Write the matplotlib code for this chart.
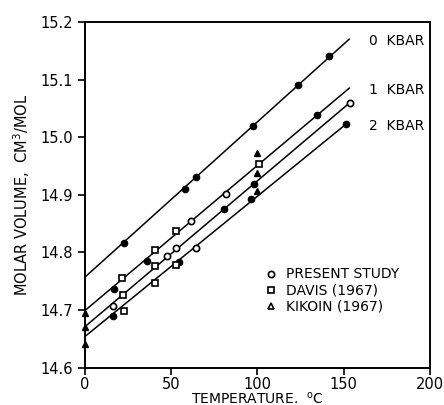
import numpy as np
import matplotlib
matplotlib.use("Agg")
import matplotlib.pyplot as plt
from matplotlib.lines import Line2D

# fitted lines: (T_start, T_end), (V_start, V_end)
line_labels = ["0  KBAR", "1  KBAR", "", "2  KBAR"]
line_T = [[0, 153.3], [0, 153.3], [0, 153.7], [0, 151.2]]
line_V = [[14.757, 15.170], [14.699, 15.085], [14.671, 15.060], [14.654, 15.022]]

# present study (filled circles)
ps_T = [22.6, 57.9, 64.7, 97.7, 123.8, 141.5,
        16.9, 36.1, 134.5,
        80.7, 97.9,
        16.4, 54.4, 96.5, 151.2]
ps_V = [14.817, 14.910, 14.931, 15.019, 15.090, 15.140,
        14.736, 14.786, 15.038,
        14.875, 14.918,
        14.689, 14.784, 14.892, 15.022]

# present study (open circles)
pso_T = [61.8, 82.1, 16.4, 47.9, 52.8, 64.3, 153.8]
pso_V = [14.854, 14.902, 14.707, 14.794, 14.808, 14.808, 15.060]

# Davis (1967)
davis_T = [21.8, 40.5, 53.1, 22.2, 40.5, 22.6, 40.5, 53.1, 101.0]
davis_V = [14.755, 14.805, 14.837, 14.726, 14.776, 14.699, 14.747, 14.779, 14.954]

# Kikoin (1967)
kik_T = [0, 0, 0, 99.8, 100.0, 99.8]
kik_V = [14.695, 14.671, 14.641, 14.973, 14.937, 14.906]

fig = plt.figure(figsize=(4.44, 4.05), dpi=100)
ax = fig.add_axes([0.191, 0.092, 0.777, 0.854])

for t, v, lab in zip(line_T, line_V, line_labels):
    ax.plot(t, v, color="black", lw=1.1)
    if lab:
        ax.text(165, v[1] - 0.003, lab, fontsize=10, va="center", ha="left")

ax.plot(ps_T, ps_V, "o", ms=4.5, mfc="black", mec="black", clip_on=False)
ax.plot(pso_T, pso_V, "o", ms=4.5, mfc="white", mec="black", mew=1.2, clip_on=False)
ax.plot(davis_T, davis_V, "s", ms=4.5, mfc="white", mec="black", mew=1.2, clip_on=False)
ax.plot(kik_T, kik_V, "^", ms=5, mfc="black", mec="black", clip_on=False)

handles = [
    Line2D([], [], marker="o", ls="", ms=4.5, mfc="white", mec="black", mew=1.2),
    Line2D([], [], marker="s", ls="", ms=4, mfc="white", mec="black", mew=1.2),
    Line2D([], [], marker="^", ls="", ms=4.5, mfc="white", mec="black", mew=1.2),
]
ax.legend(handles, ["PRESENT STUDY", "DAVIS (1967)", "KIKOIN (1967)"],
          loc="upper left", bbox_to_anchor=(0.50, 0.31), frameon=False,
          fontsize=10, handlelength=1.0, handletextpad=0.6,
          labelspacing=0.15, borderpad=0)

ax.set_xlim(0, 200)
ax.set_ylim(14.6, 15.2)
ax.set_xticks([0, 50, 100, 150, 200])
ax.set_yticks([14.6, 14.7, 14.8, 14.9, 15.0, 15.1, 15.2])
ax.yaxis.set_major_formatter(matplotlib.ticker.FormatStrFormatter("%.1f"))
ax.tick_params(direction="out", length=5, width=1.2, labelsize=10.5)
ax.tick_params(axis="x", pad=1.5)
for s in ax.spines.values():
    s.set_linewidth(1.4)

ax.set_xlabel("TEMPERATURE.  $^\\mathregular{o}$C", fontsize=10, labelpad=-1)
ax.set_ylabel("MOLAR VOLUME,  CM$^\\mathregular{3}$/MOL", fontsize=10.5, labelpad=6)

fig.savefig("out.png", dpi=100)
